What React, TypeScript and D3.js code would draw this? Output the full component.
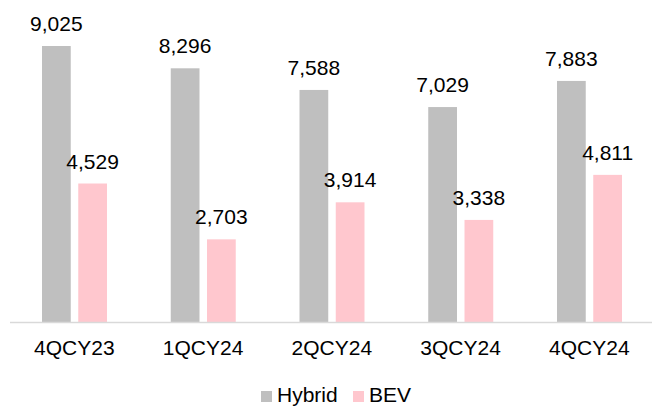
import React from "react";
import * as d3 from "d3";

const categories = ["4QCY23", "1QCY24", "2QCY24", "3QCY24", "4QCY24"];
const hybrid = [9025, 8296, 7588, 7029, 7883];
const bev = [4529, 2703, 3914, 3338, 4811];
const seriesNames = ["Hybrid", "BEV"];
const colors = ["#bfbfbf", "#ffc7ce"];

const W = 652;
const H = 407;
const FONT = "Arial, 'Liberation Sans', sans-serif";

export default function App() {
  const x = d3.scaleBand<string>().domain(categories).range([10, 653.75]).padding(0);
  const xi = d3.scaleBand<string>().domain(seriesNames).range([32, 97]).paddingInner(0.207).paddingOuter(0);
  const y = d3.scaleLinear().domain([0, 10000]).range([322, 16.2]);
  const data = [hybrid, bev];
  const fmt = d3.format(",");

  return (
    <svg width={W} height={H} style={{ position: "absolute", left: 0, top: 0 }} fontFamily={FONT}>
      <rect width={W} height={H} fill="#fff" />
      {categories.map((c, i) =>
        seriesNames.map((s, j) => {
          const v = data[j][i];
          const bx = (x(c) as number) + (xi(s) as number);
          const bw = xi.bandwidth();
          return (
            <g key={c + s}>
              <rect x={bx} y={y(v)} width={bw} height={y(0) - y(v)} fill={colors[j]} />
              <text x={bx + bw / 2} y={y(v) - 15} textAnchor="middle" fontSize={21} fill="#000">
                {fmt(v)}
              </text>
            </g>
          );
        })
      )}
      <line x1={10} x2={W} y1={y(0) + 0.5} y2={y(0) + 0.5} stroke="#d9d9d9" strokeWidth={1.5} />
      {categories.map((c) => (
        <text key={c} x={(x(c) as number) + x.bandwidth() / 2} y={355} textAnchor="middle" fontSize={21} fill="#000">
          {c}
        </text>
      ))}
      <g>
        <rect x={261} y={391} width={11} height={11} fill={colors[0]} />
        <text x={277} y={402} fontSize={21} fill="#000">{seriesNames[0]}</text>
        <rect x={353} y={391} width={11} height={11} fill={colors[1]} />
        <text x={369} y={402} fontSize={21} fill="#000">{seriesNames[1]}</text>
      </g>
    </svg>
  );
}
